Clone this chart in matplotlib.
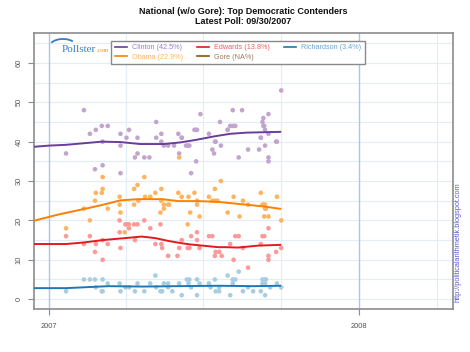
import matplotlib
matplotlib.use("Agg")
import matplotlib.pyplot as plt
from matplotlib.lines import Line2D
from matplotlib.patches import Arc

# ---------------- data (x = days since 2007-01-01) ----------------
title_lines = ["National (w/o Gore): Top Democratic Contenders", "Latest Poll: 09/30/2007"]
year_ticks = [0, 365]
year_labels = ["2007", "2008"]
quarter_days = [90, 181, 273, 456]
y_ticks = [0, 10, 20, 30, 40, 50, 60]

clinton_days = [20, 41, 48, 55, 62, 69, 63, 54, 63, 84, 84, 84, 91, 94, 104, 101, 104, 112, 118,
                126, 126, 132, 132, 135, 140, 152, 156, 153, 161, 165, 172, 174, 167, 173, 178,
                188, 196, 192, 194, 201, 202, 210, 213, 216, 219, 227, 223, 234, 249, 251, 252,
                252, 254, 258, 258, 258, 258, 267, 273, 163, 171, 195, 210, 216, 247, 253, 254,
                249, 268, 147, 156]
clinton_vals = [37, 48, 42, 43, 44, 44, 40, 33, 34, 42, 39, 32, 41, 43, 41, 36, 37, 36, 36,
                45, 41, 42, 40, 39, 39, 42, 41, 37, 39, 39, 43, 43, 32, 35, 47,
                42, 40, 38, 37, 45, 39, 43, 44, 48, 44, 48, 36, 38, 41, 45, 46,
                44, 39, 47, 42, 36, 35, 40, 53, 39, 43, 40, 43, 44, 38, 44, 43,
                41, 40, 39, 41]

obama_days = [20, 41, 48, 54, 55, 63, 63, 62, 69, 83, 83, 84, 89, 90, 94, 100, 100, 104, 105,
              112, 113, 119, 125, 131, 132, 132, 135, 135, 140, 141, 152, 153, 156, 163, 164,
              166, 171, 174, 174, 177, 188, 192, 195, 195, 198, 202, 210, 217, 224, 228, 234,
              249, 251, 253, 254, 253, 258, 254, 255, 268, 273]
obama_vals = [18, 23, 20, 25, 27, 31, 28, 27, 23, 26, 24, 22, 17, 19, 19, 28, 24, 29, 25,
              31, 26, 26, 27, 22, 28, 25, 24, 23, 24, 24, 27, 36, 26, 19, 26,
              22, 27, 25, 24, 21, 26, 25, 25, 28, 25, 30, 22, 26, 21, 25, 24,
              27, 24, 24, 24, 21, 21, 23, 23, 26, 20]

edwards_days = [20, 41, 48, 55, 54, 63, 63, 69, 83, 83, 84, 94, 100, 104, 101, 112, 119, 125,
                131, 132, 133, 140, 151, 153, 156, 163, 165, 167, 174, 174, 177, 188, 192, 195,
                196, 200, 203, 213, 217, 219, 223, 228, 234, 249, 251, 253, 258, 258, 258, 267,
                273, 90, 93]
edwards_vals = [16, 14, 16, 14, 12, 10, 15, 14, 17, 20, 13, 18, 19, 19, 15, 20, 18, 14,
                19, 14, 13, 11, 11, 13, 15, 13, 13, 16, 15, 17, 13, 16, 16, 11,
                12, 12, 11, 14, 10, 16, 16, 13, 8, 14, 16, 16, 18, 11, 10, 12,
                13, 19, 19]

richardson_days = [20, 41, 48, 54, 63, 55, 62, 63, 69, 83, 84, 90, 94, 101, 104, 112, 119, 125,
                   126, 131, 133, 135, 140, 140, 145, 153, 156, 162, 165, 164, 167, 174, 174,
                   177, 188, 190, 195, 196, 200, 200, 210, 213, 216, 219, 216, 223, 228, 234,
                   240, 249, 251, 254, 255, 251, 254, 254, 260, 268, 273]
richardson_vals = [2, 5, 5, 5, 5, 3, 2, 2, 4, 4, 2, 3, 3, 2, 4, 2, 4, 6,
                   3, 2, 2, 4, 3, 4, 2, 4, 1, 5, 5, 4, 3, 5, 1,
                   4, 4, 3, 5, 2, 2, 3, 6, 1, 5, 5, 4, 7, 2, 3,
                   2, 2, 5, 5, 5, 4, 4, 1, 3, 4, 3]

# trend estimates
clinton_trend_days = [-18, 0, 20, 62, 84, 107, 135, 154, 174, 193, 213, 233, 273]
clinton_trend_vals = [38.7, 39.0, 39.2, 40.0, 39.9, 39.4, 39.4, 39.8, 40.5, 41.3, 42.0, 42.3, 42.5]
obama_trend_days = [-18, 0, 11, 41, 62, 84, 105, 133, 152, 176, 199, 227, 254, 273]
obama_trend_vals = [19.9, 20.9, 21.5, 22.9, 23.9, 25.1, 25.4, 25.4, 24.9, 24.9, 24.7, 24.1, 23.5, 22.9]
edwards_trend_days = [-18, 20, 41, 63, 89, 109, 125, 140, 156, 166, 199, 209, 222, 246, 273]
edwards_trend_vals = [14.0, 14.0, 14.4, 15.0, 15.5, 15.9, 15.5, 14.8, 14.2, 13.9, 13.2, 13.2, 13.1, 13.6, 13.8]
richardson_trend_days = [-18, 20, 50, 70, 110, 150, 200, 240, 273]
richardson_trend_vals = [2.8, 2.8, 3.1, 3.3, 3.2, 3.3, 3.4, 3.3, 3.4]

legend_labels = ["Clinton (42.5%)", "Obama (22.9%)", "Edwards (13.8%)", "Gore (NA%)", "Richardson (3.4%)"]

# ---------------- style ----------------
line_colors = {"Clinton": "#6a3d9a", "Obama": "#ff7f00", "Edwards": "#e31a1c",
               "Gore": "#8c510a", "Richardson": "#1f78b4"}
point_colors = {"Clinton": "#c2a5cf", "Obama": "#fdb462", "Edwards": "#fb9a99",
                "Richardson": "#a6cee3"}
text_colors = {"Clinton": "#9b7fc8", "Obama": "#fdb462", "Edwards": "#f06060",
               "Gore": "#9a7a5a", "Richardson": "#6aa7d6"}

W, H = 470, 352
fig = plt.figure(figsize=(W / 100, H / 100), dpi=100)
fig.patch.set_facecolor("white")
L, R, T, B = 34, 453, 33, 309
ax = fig.add_axes([L / W, 1 - B / H, (R - L) / W, (B - T) / H])

ax.set_xlim(-17.7, 475)
ax.set_ylim(-2.5, 67.6)

# grid
for v in range(0, 70, 5):
    ax.axhline(v, color="#e3ecf7", lw=0.8, zorder=0)
for d in quarter_days:
    ax.axvline(d, color="#e3ecf7", lw=0.8, zorder=0)
for d in year_ticks:
    ax.axvline(d, color="#a9c6e6", lw=1.0, zorder=0.5)

series = [
    ("Clinton", clinton_days, clinton_vals, clinton_trend_days, clinton_trend_vals),
    ("Obama", obama_days, obama_vals, obama_trend_days, obama_trend_vals),
    ("Edwards", edwards_days, edwards_vals, edwards_trend_days, edwards_trend_vals),
    ("Richardson", richardson_days, richardson_vals, richardson_trend_days, richardson_trend_vals),
]
for name, dx, vy, tdx, tvy in series:
    ax.scatter(dx, vy, s=11, color=point_colors[name], edgecolors="none", zorder=2)
for name, dx, vy, tdx, tvy in series:
    ax.plot(tdx, tvy, color=line_colors[name], lw=1.4, zorder=3, solid_capstyle="butt")

# axes styling
for s in ax.spines.values():
    s.set_color("#8c8c8c")
    s.set_linewidth(1.2)
ax.set_xticks(year_ticks)
ax.set_xticklabels(year_labels)
ax.set_yticks(y_ticks)
ax.set_yticklabels([str(v) for v in y_ticks], rotation=90, va="center")
ax.tick_params(axis="both", colors="#8c8c8c", labelcolor="#555555", labelsize=5.4,
               length=4, width=0.8, direction="out")
ax.tick_params(axis="x", pad=6)
ax.tick_params(axis="y", pad=4)
for lab in ax.get_xticklabels() + ax.get_yticklabels():
    lab.set_fontfamily("Liberation Sans")

# title
fig.text((L + R) / 2 / W, 1 - 12 / H, title_lines[0], ha="center", va="center",
         fontsize=6.5, fontweight="bold", family="Liberation Sans", color="#111111")
fig.text((L + R) / 2 / W, 1 - 22 / H, title_lines[1], ha="center", va="center",
         fontsize=6.5, fontweight="bold", family="Liberation Sans", color="#111111")

# legend
names = ["Clinton", "Obama", "Edwards", "Gore", "Richardson"]
handles = [Line2D([0], [0], color=line_colors[n], lw=1.2) for n in names]
leg = ax.legend(handles, legend_labels, ncol=3, loc="upper left",
                bbox_to_anchor=((111 - L) / (R - L), (B - 40.5) / (B - T)),
                prop={"family": "Liberation Sans", "size": 5.2},
                frameon=True, fancybox=False, edgecolor="#8a8a8a", framealpha=1,
                handlelength=1.7, handletextpad=0.7, columnspacing=1.9,
                labelspacing=0.32, borderpad=0.5, borderaxespad=0)
leg.get_frame().set_linewidth(1.0)
for txt, n in zip(leg.get_texts(), names):
    txt.set_color(text_colors[n])
leg.set_zorder(5)

# Pollster logo
fig.text(62 / W, 1 - 52 / H, "Pollster", fontsize=8.0, family="Liberation Serif",
         color="#3a7cc4", va="baseline", ha="left")
fig.text(96.5 / W, 1 - 52 / H, ".com", fontsize=4.4, family="Liberation Serif",
         color="#f08a24", va="baseline", ha="left")
arc = Arc((63, H - 46), 26, 14, theta1=25, theta2=165, color="#3a7cc4", lw=1.3,
          transform=None)
fig.add_artist(arc)

# url
fig.text(458 / W, 1 - 242 / H, "http://politicalarithmetik.blogspot.com", rotation=90,
         ha="center", va="center", fontsize=5.3, family="Liberation Sans", color="#5b5bd6")

fig.savefig("out.png", dpi=100, facecolor="white")
